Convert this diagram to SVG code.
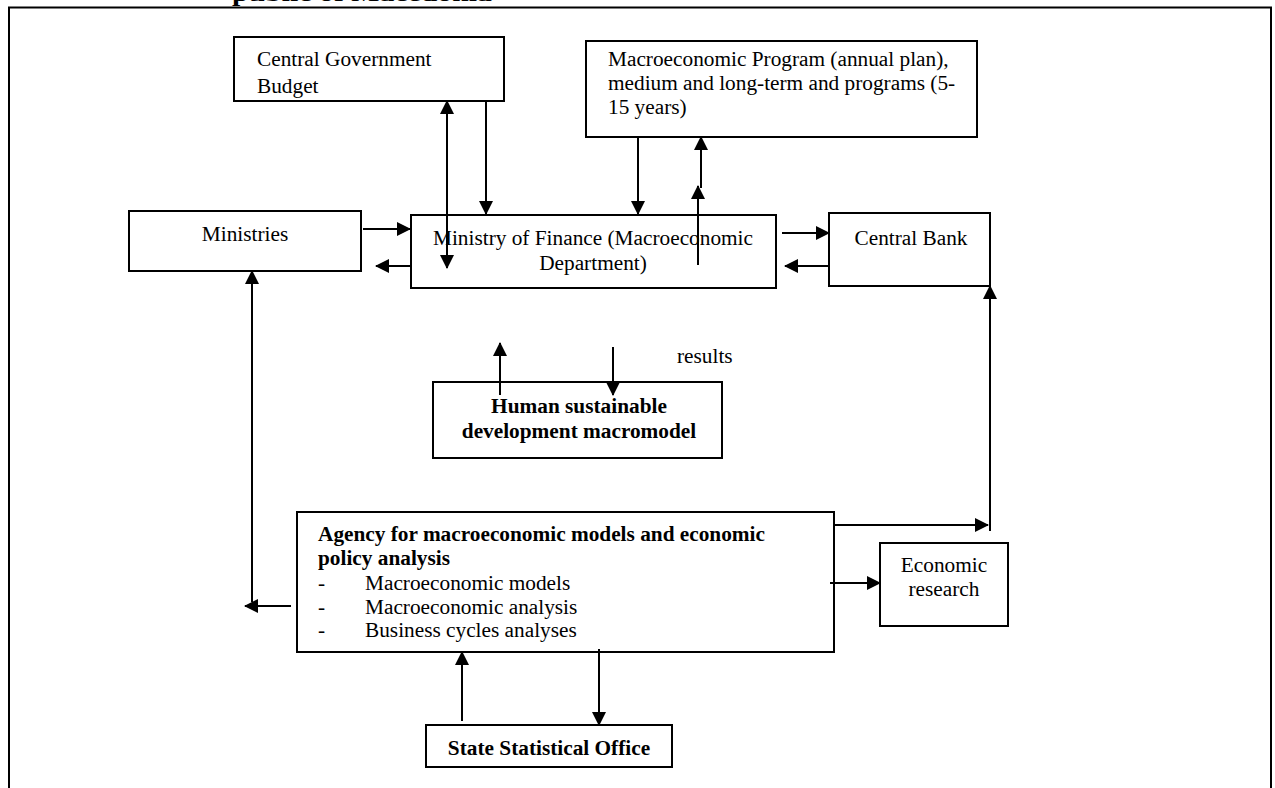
<svg xmlns="http://www.w3.org/2000/svg" width="1275" height="788" viewBox="0 0 1275 788">
<style>
  .box { fill: #ffffff; stroke: #000000; stroke-width: 2; }
  .t { font-family: "Liberation Serif", "Times New Roman", serif; font-size: 21.3px; fill: #000000; }
  .b { font-weight: bold; }
  .c { text-anchor: middle; }
  .ln { fill: none; stroke: #000000; stroke-width: 2; }
  .arr { marker-end: url(#ah); }
</style>
<defs>
  <marker id="ah" viewBox="0 0 14 14" refX="13" refY="7" markerWidth="14" markerHeight="14" markerUnits="userSpaceOnUse" orient="auto-start-reverse">
    <path d="M0,0 L14,7 L0,14 z" fill="#000000"/>
  </marker>
</defs>
<rect width="1275" height="788" fill="#ffffff"/>
<text class="t b" x="232" y="1" font-size="28" textLength="260" lengthAdjust="spacingAndGlyphs">public of Macedonia</text>
<path class="ln" d="M9,788 L9,7.5 L1271,7.5 L1271,788"/>

<g id="central-government-budget">
  <rect class="box" x="234" y="37" width="270" height="64"/>
  <text class="t" x="257" y="66">Central Government</text>
  <text class="t" x="257" y="93">Budget</text>
</g>

<g id="macroeconomic-program">
  <rect class="box" x="586" y="41" width="391" height="96"/>
  <text class="t" x="608" y="66">Macroeconomic Program (annual plan),</text>
  <text class="t" x="608" y="90">medium and long-term and programs (5-</text>
  <text class="t" x="608" y="114">15 years)</text>
</g>

<g id="ministries">
  <rect class="box" x="129" y="211" width="232" height="60"/>
  <text class="t c" x="245" y="241">Ministries</text>
</g>

<g id="ministry-of-finance">
  <rect class="box" x="411" y="215" width="365" height="73"/>
  <text class="t c" x="593" y="245">Ministry of Finance (Macroeconomic</text>
  <text class="t c" x="593" y="270">Department)</text>
</g>

<g id="central-bank">
  <rect class="box" x="829" y="213" width="161" height="73"/>
  <text class="t c" x="911" y="245">Central Bank</text>
</g>

<g id="results-label">
  <text class="t" x="677" y="363">results</text>
</g>

<g id="human-sustainable-development-macromodel">
  <rect class="box" x="433" y="382" width="289" height="76"/>
  <text class="t b c" x="579" y="413">Human sustainable</text>
  <text class="t b c" x="579" y="438">development macromodel</text>
</g>

<g id="agency">
  <rect class="box" x="297" y="512" width="537" height="140"/>
  <text class="t b" x="318" y="541">Agency for macroeconomic models and economic</text>
  <text class="t b" x="318" y="565">policy analysis</text>
  <text class="t" x="318" y="590">-</text>
  <text class="t" x="365" y="590">Macroeconomic models</text>
  <text class="t" x="318" y="614">-</text>
  <text class="t" x="365" y="614">Macroeconomic analysis</text>
  <text class="t" x="318" y="637">-</text>
  <text class="t" x="365" y="637">Business cycles analyses</text>
</g>

<g id="economic-research">
  <rect class="box" x="880" y="543" width="128" height="83"/>
  <text class="t c" x="944" y="572">Economic</text>
  <text class="t c" x="944" y="596">research</text>
</g>

<g id="state-statistical-office">
  <rect class="box" x="426" y="725" width="246" height="42"/>
  <text class="t b c" x="549" y="755">State Statistical Office</text>
</g>

<g id="connectors">
  <line class="ln" x1="447" y1="101" x2="447" y2="268" marker-start="url(#ah)" marker-end="url(#ah)"/>
  <line class="ln arr" x1="486" y1="101" x2="486" y2="214"/>
  <line class="ln arr" x1="638" y1="137" x2="638" y2="214"/>
  <line class="ln arr" x1="698" y1="265" x2="698" y2="186"/>
  <line class="ln arr" x1="701" y1="188" x2="701" y2="137"/>
  <line class="ln arr" x1="363" y1="229" x2="410" y2="229"/>
  <line class="ln arr" x1="411" y1="266" x2="376" y2="266"/>
  <line class="ln arr" x1="782" y1="233" x2="829" y2="233"/>
  <line class="ln arr" x1="829" y1="266" x2="785" y2="266"/>
  <line class="ln arr" x1="252" y1="602" x2="252" y2="271"/>
  <line class="ln arr" x1="291" y1="606" x2="245" y2="606"/>
  <line class="ln arr" x1="500" y1="395" x2="500" y2="343"/>
  <line class="ln arr" x1="613" y1="347" x2="613" y2="395"/>
  <line class="ln arr" x1="834" y1="525" x2="988" y2="525"/>
  <line class="ln arr" x1="990" y1="531" x2="990" y2="286"/>
  <line class="ln arr" x1="830" y1="583" x2="880" y2="583"/>
  <line class="ln arr" x1="462" y1="721" x2="462" y2="652"/>
  <line class="ln arr" x1="599" y1="649" x2="599" y2="725"/>
</g>
</svg>
